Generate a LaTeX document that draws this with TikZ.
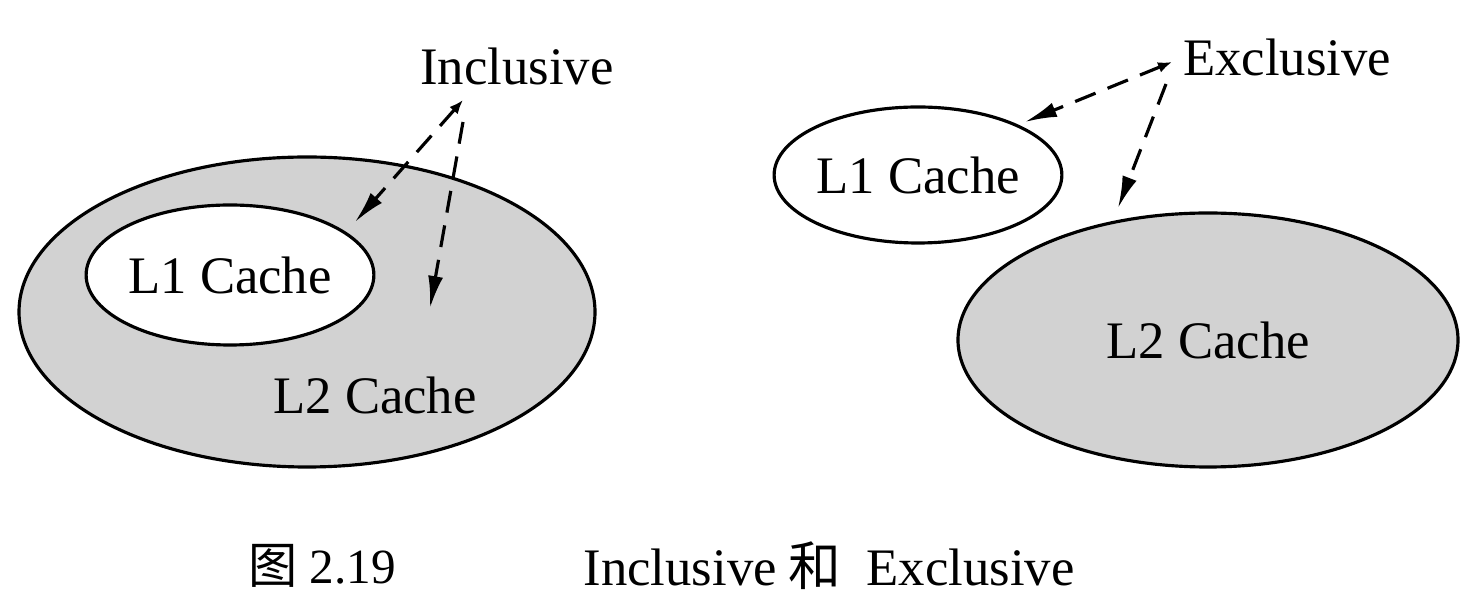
\documentclass[tikz,border=0pt]{standalone}
\usepackage{fontspec}
\setmainfont{Liberation Serif}
\newfontfamily\cjk{Noto Sans CJK SC}
\usetikzlibrary{shapes,arrows.meta,positioning,calc}
\definecolor{cachegray}{RGB}{210,210,210}

\begin{document}
\begin{tikzpicture}[
		cache/.style={draw, ellipse, line width=0.9pt, inner sep=0pt},
		pointer/.style={dashed, line width=0.9pt, dash pattern=on 2.2mm off 1.3mm,
			-{Latex[length=3.2mm, width=1.5mm]}},
		backtip/.style={{Latex[length=1.4mm, width=1.1mm]}-{Latex[length=3.2mm, width=1.5mm]}},
		font=\fontsize{15}{18}\selectfont]
	\useasboundingbox (0,0) rectangle (14.8,-6.01);

	% Inclusive: L1 sits inside L2
	\node[cache, fill=cachegray, minimum width=5.76cm, minimum height=3.1cm] (l2in) at (3.07,-3.12) {};
	\node[cache, fill=white, minimum width=2.64cm, minimum height=1.4cm] (l1in) at (2.30,-2.75) {L1 Cache};
	\node (l2inlabel) at (3.75,-3.95) {L2 Cache};
	\node (inclusive) at (5.17,-0.66) {Inclusive};

	% Inclusive pointers
	\coordinate (inclsrc) at (4.63,-1.00);
	\coordinate (inclmid) at (4.63,-1.22);
	\coordinate (incll1) at (3.55,-2.22);
	\coordinate (incll2) at (4.30,-3.08);
	\draw[pointer, backtip] (inclsrc) -- (incll1);
	\draw[pointer] (inclmid) -- (incll2);

	% Exclusive: L1 and L2 apart
	\node[cache, fill=white, minimum width=2.66cm, minimum height=1.36cm] (l1ex) at (9.18,-1.75) {L1 Cache};
	\node[cache, fill=cachegray, minimum width=5.0cm, minimum height=2.54cm] (l2ex) at (12.08,-3.40) {L2 Cache};
	\node (exclusive) at (12.87,-0.57) {Exclusive};

	% Exclusive pointers
	\coordinate (exclsrc) at (11.72,-0.62);
	\coordinate (exclmid) at (11.66,-0.84);
	\coordinate (excll1) at (10.25,-1.22);
	\coordinate (excll2) at (11.18,-2.08);
	\draw[pointer, backtip] (exclsrc) -- (excll1);
	\draw[pointer] (exclmid) -- (excll2);

	% Caption
	\node[font=\fontsize{14}{16}\selectfont] (figno) at (3.22,-5.66) {{\cjk 图} 2.19};
	\node[font=\fontsize{15}{18}\selectfont] (figtext) at (8.29,-5.66) {Inclusive\hspace{0.12cm}{\cjk 和}\hspace{0.25cm}Exclusive};
\end{tikzpicture}
\end{document}
